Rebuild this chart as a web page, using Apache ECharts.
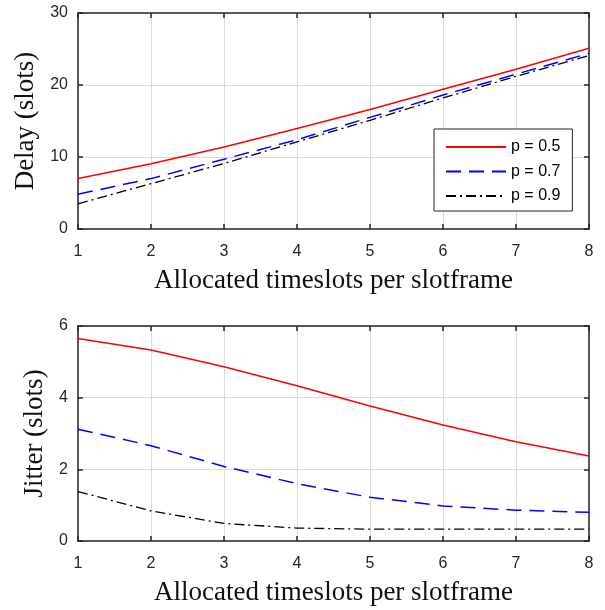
<!DOCTYPE html>
<html>
<head>
    <meta charset="utf-8">
    <title>Delay and jitter</title>
    <script src="https://cdn.jsdelivr.net/npm/echarts@6/dist/echarts.min.js"></script>
    <style>
        html, body { margin: 0; padding: 0; background: #fff; }
        #chart { width: 605px; height: 610px; }
    </style>
</head>
<body>
<div id="chart"></div>

<script type="text/javascript">
    // timeslots on the x axis
    var slots = [1, 2, 3, 4, 5, 6, 7, 8];
    var seriesNames = ['p = 0.5', 'p = 0.7', 'p = 0.9'];

    // delay (slots), top plot
    var delayP05 = [7.0, 9.05, 11.4, 13.95, 16.6, 19.4, 22.2, 25.1];
    var delayP07 = [4.83, 7.0, 9.7, 12.4, 15.5, 18.6, 21.5, 24.4];
    var delayP09 = [3.5, 6.3, 9.1, 12.1, 15.1, 18.2, 21.2, 24.1];

    // jitter (slots), bottom plot
    var jitterP05 = [5.65, 5.33, 4.86, 4.33, 3.77, 3.24, 2.77, 2.37];
    var jitterP07 = [3.12, 2.66, 2.08, 1.6, 1.22, 0.98, 0.86, 0.8];
    var jitterP09 = [1.38, 0.84, 0.49, 0.36, 0.33, 0.33, 0.33, 0.33];

    var frameColor = '#262626';
    var gridColor = '#dcdcdc';
    var lineStyles = [
        {color: '#ff0000', width: 1.5, type: 'solid'},
        {color: '#0000ff', width: 1.5, type: [15, 8]},
        {color: '#000000', width: 1.3, type: [10, 4, 2, 4]}
    ];

    function pairs(ys) {
        return slots.map(function (x, i) { return [x, ys[i]]; });
    }

    // main (labelled) x axis
    function xMain(gridIndex) {
        return {
            type: 'value', gridIndex: gridIndex, position: 'bottom',
            min: 1, max: 8, interval: 1,
            name: 'Allocated timeslots per slotframe',
            nameLocation: 'middle', nameGap: 38,
            nameTextStyle: {fontFamily: 'Liberation Serif', fontSize: 27, color: '#111'},
            axisLine: {show: true, onZero: false, lineStyle: {color: frameColor, width: 1.5}},
            axisTick: {show: true, inside: true, length: 5, lineStyle: {color: frameColor, width: 1.5}},
            axisLabel: {margin: 15, fontFamily: 'Liberation Sans', fontSize: 16, color: frameColor},
            splitLine: {show: true, lineStyle: {color: gridColor, width: 1}}
        };
    }

    // box edge on top, ticks only
    function xTop(gridIndex) {
        return {
            type: 'value', gridIndex: gridIndex, position: 'top',
            min: 1, max: 8, interval: 1,
            axisLine: {show: true, onZero: false, lineStyle: {color: frameColor, width: 1.5}},
            axisTick: {show: true, inside: true, length: 5, lineStyle: {color: frameColor, width: 1.5}},
            axisLabel: {show: false},
            splitLine: {show: false}
        };
    }

    function yMain(gridIndex, name, max, interval, gap) {
        return {
            type: 'value', gridIndex: gridIndex, position: 'left',
            min: 0, max: max, interval: interval,
            name: name, nameLocation: 'middle', nameGap: gap,
            nameTextStyle: {fontFamily: 'Liberation Serif', fontSize: 27, color: '#111'},
            axisLine: {show: true, onZero: false, lineStyle: {color: frameColor, width: 1.5}},
            axisTick: {show: true, inside: true, length: 5, lineStyle: {color: frameColor, width: 1.5}},
            axisLabel: {margin: 10, fontFamily: 'Liberation Sans', fontSize: 16, color: frameColor},
            splitLine: {show: true, lineStyle: {color: gridColor, width: 1}}
        };
    }

    function yRight(gridIndex, max, interval) {
        return {
            type: 'value', gridIndex: gridIndex, position: 'right',
            min: 0, max: max, interval: interval,
            axisLine: {show: true, onZero: false, lineStyle: {color: frameColor, width: 1.5}},
            axisTick: {show: true, inside: true, length: 5, lineStyle: {color: frameColor, width: 1.5}},
            axisLabel: {show: false},
            splitLine: {show: false}
        };
    }

    function line(name, ys, idx, axisIndex) {
        return {
            name: name, type: 'line',
            xAxisIndex: axisIndex, yAxisIndex: axisIndex,
            data: pairs(ys),
            symbol: 'none', showSymbol: false,
            lineStyle: lineStyles[idx],
            itemStyle: {color: lineStyles[idx].color},
            z: 3 - idx
        };
    }

    var myChart = echarts.init(document.getElementById('chart'));
    myChart.setOption({
        animation: false,
        backgroundColor: '#ffffff',
        grid: [
            {left: 78, top: 13, width: 511, height: 216},
            {left: 78, top: 326, width: 511, height: 215}
        ],
        xAxis: [xMain(0), xTop(0), xMain(1), xTop(1)],
        yAxis: [
            yMain(0, 'Delay (slots)', 30, 10, 35), yRight(0, 30, 10),
            yMain(1, 'Jitter (slots)', 6, 2, 25), yRight(1, 6, 2)
        ],
        legend: {
            data: seriesNames,
            orient: 'vertical',
            left: 434, top: 129,
            padding: [10, 12, 7, 11],
            itemWidth: 60, itemHeight: 14, itemGap: 8.5,
            backgroundColor: '#ffffff',
            borderColor: frameColor, borderWidth: 1,
            borderRadius: 0,
            // hide the marker dot drawn on the line icon
            itemStyle: {opacity: 0},
            textStyle: {fontFamily: 'Liberation Sans', fontSize: 16, color: '#000'}
        },
        series: [
            line(seriesNames[0], delayP05, 0, 0),
            line(seriesNames[1], delayP07, 1, 0),
            line(seriesNames[2], delayP09, 2, 0),
            line(seriesNames[0], jitterP05, 0, 2),
            line(seriesNames[1], jitterP07, 1, 2),
            line(seriesNames[2], jitterP09, 2, 2)
        ]
    });
</script>
</body>
</html>
